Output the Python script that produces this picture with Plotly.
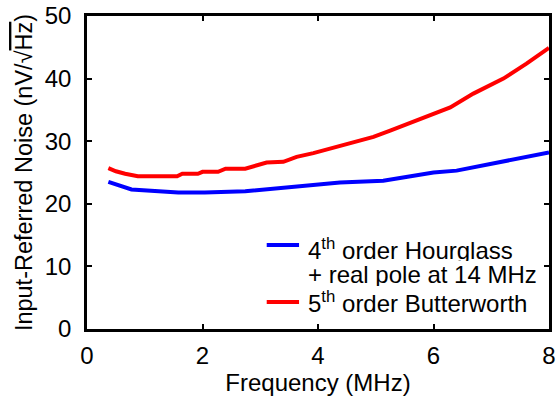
import plotly.graph_objects as go

# Frequency (MHz) and input-referred noise (nV/sqrt(Hz))
freq_hourglass = [0.37, 0.77, 1.58, 2.04, 2.74, 3.57, 4.38, 5.13, 5.42, 6.0, 6.40, 6.75, 7.21, 7.61, 8.0]
noise_hourglass = [23.5, 22.3, 21.8, 21.8, 22.0, 22.7, 23.4, 23.7, 24.1, 25.0, 25.3, 25.9, 26.8, 27.4, 28.2]

freq_butter = [0.37, 0.5, 0.66, 0.88, 1.56, 1.65, 1.92, 2.0, 2.27, 2.4, 2.74, 3.11, 3.40, 3.63,
               3.92, 4.15, 4.32, 4.55, 4.96, 5.25, 5.42, 5.82, 6.29, 6.69, 7.21, 7.61, 8.0]
noise_butter = [25.7, 25.2, 24.8, 24.4, 24.4, 24.8, 24.8, 25.1, 25.1, 25.6, 25.6, 26.6, 26.7, 27.5,
                28.1, 28.7, 29.0, 29.7, 30.7, 31.7, 32.3, 33.7, 35.4, 37.6, 40.0, 42.4, 44.9]

x_ticks = [0, 2, 4, 6, 8]
y_ticks = [0, 10, 20, 30, 40, 50]

legend_lines = ["4<sup>th</sup> order Hourglass", "+ real pole at 14 MHz", "5<sup>th</sup> order Butterworth"]

FONT = "Liberation Sans, Arial, sans-serif"

fig = go.Figure()
fig.add_trace(go.Scatter(x=freq_hourglass, y=noise_hourglass, mode="lines",
                         line=dict(color="#0000FF", width=4), showlegend=False, cliponaxis=False))
fig.add_trace(go.Scatter(x=freq_butter, y=noise_butter, mode="lines",
                         line=dict(color="#FF0000", width=4), showlegend=False, cliponaxis=False))

axis_common = dict(showline=True, linecolor="black", linewidth=2.5, mirror="ticks",
                   ticks="inside", ticklen=5, tickwidth=2, tickcolor="black",
                   showgrid=False, zeroline=False, automargin=False,
                   tickfont=dict(family=FONT, size=24, color="black"))

fig.update_xaxes(range=[0, 8], tickvals=x_ticks, ticklabelstandoff=3,
                 title=dict(text="Frequency (MHz)", font=dict(family=FONT, size=24, color="black"),
                            standoff=8),
                 **axis_common)
fig.update_yaxes(range=[0, 50], tickvals=y_ticks, ticklabelstandoff=8,
                 title=dict(text="Input-Referred Noise (nV/√<span style='text-decoration:overline'>Hz</span>)",
                            font=dict(family=FONT, size=23.5, color="black"), standoff=6),
                 **axis_common)

# legend drawn as annotations + line samples
legend_y = [0.254, 0.175, 0.087]
for txt, yy in zip(legend_lines, legend_y):
    fig.add_annotation(xref="paper", yref="paper", x=0.474, y=yy, text=txt, showarrow=False,
                       xanchor="left", yanchor="middle", height=24, valign="middle",
                       font=dict(family=FONT, size=24, color="black"))
fig.add_shape(type="line", xref="paper", yref="paper", x0=0.389, x1=0.459, y0=0.268, y1=0.268,
              line=dict(color="#0000FF", width=4))
fig.add_shape(type="line", xref="paper", yref="paper", x0=0.389, x1=0.459, y0=0.0863, y1=0.0863,
              line=dict(color="#FF0000", width=4))

fig.update_layout(width=557, height=396, margin=dict(l=87, r=8, t=16, b=67, autoexpand=False),
                  plot_bgcolor="white", paper_bgcolor="white",
                  font=dict(family=FONT, size=24, color="black"))

fig.write_html("out.html")
